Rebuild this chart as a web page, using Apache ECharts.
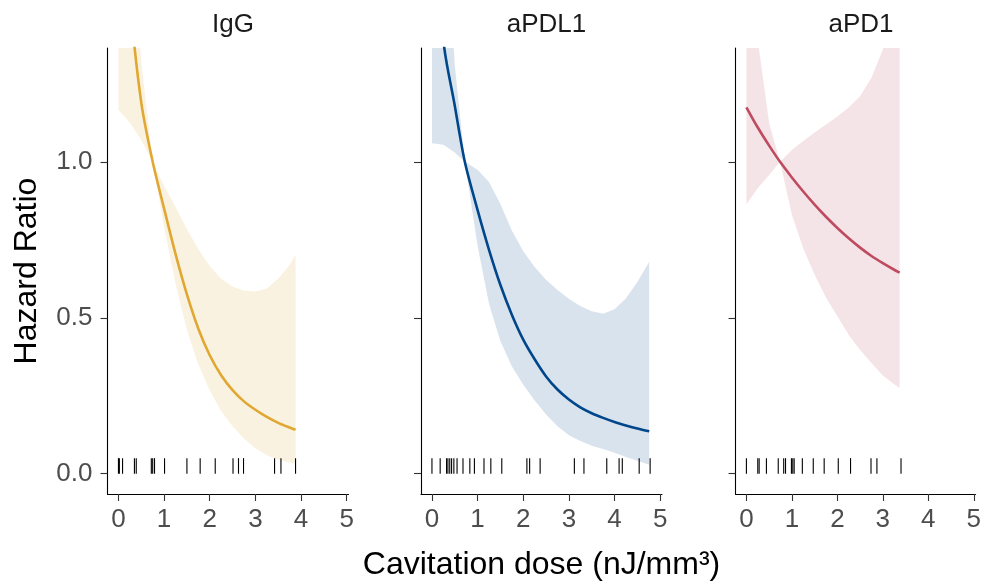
<!DOCTYPE html>
<html><head><meta charset="utf-8">
<script src="https://cdn.jsdelivr.net/npm/echarts@6/dist/echarts.min.js"></script>
<style>html,body{margin:0;padding:0;background:#fff}#c{width:984px;height:588px}</style>
</head><body><div id="c"></div>
<script>
// ---- data ----
const panelNames = ['IgG', 'aPDL1', 'aPD1'];
const lineColors = ['#E0A832', '#00468B', '#BE4B5F'];
const xTicks = [0, 1, 2, 3, 4, 5];
const yTicks = [0, 0.5, 1.0];

const iggX  = [0, 0.25, 0.5, 0.75, 1.0, 1.25, 1.5, 1.75, 2.0, 2.25, 2.5, 2.75, 3.0, 3.25, 3.5, 3.75, 3.88];
const iggHR = [2.0, 1.52, 1.19, 1.0, 0.85, 0.705, 0.575, 0.465, 0.38, 0.316, 0.268, 0.232, 0.205, 0.182, 0.163, 0.148, 0.141];
const iggLo = [1.167, 1.125, 1.07, 1.0, 0.79, 0.61, 0.46, 0.35, 0.268, 0.2, 0.152, 0.113, 0.082, 0.059, 0.045, 0.036, 0.032];
const iggHi = [3.0, 1.9, 1.32, 1.0, 0.923, 0.855, 0.785, 0.72, 0.666, 0.625, 0.6, 0.587, 0.584, 0.594, 0.625, 0.67, 0.702];
const iggRug = [0.0, 0.02, 0.09, 0.35, 0.39, 0.72, 0.75, 0.79, 1.01, 1.50, 1.79, 2.12, 2.51, 2.63, 2.74, 3.42, 3.56, 3.88];

const pdl1X  = [0, 0.25, 0.5, 0.72, 1.0, 1.25, 1.5, 1.75, 2.0, 2.25, 2.5, 2.75, 3.0, 3.25, 3.5, 3.75, 4.0, 4.25, 4.5, 4.76];
const pdl1HR = [2.0, 1.39, 1.18, 1.0, 0.845, 0.718, 0.605, 0.51, 0.43, 0.367, 0.312, 0.27, 0.238, 0.213, 0.194, 0.179, 0.166, 0.155, 0.145, 0.136];
const pdl1Lo = [1.06, 1.055, 1.03, 1.0, 0.73, 0.545, 0.425, 0.345, 0.285, 0.235, 0.19, 0.152, 0.123, 0.105, 0.09, 0.079, 0.067, 0.054, 0.042, 0.029];
const pdl1Hi = [3.5, 1.9, 1.31, 1.0, 0.975, 0.935, 0.865, 0.78, 0.713, 0.663, 0.622, 0.589, 0.561, 0.538, 0.521, 0.513, 0.527, 0.563, 0.615, 0.68];
const pdl1Rug = [0.0, 0.18, 0.32, 0.35, 0.39, 0.43, 0.48, 0.55, 0.68, 0.83, 0.93, 1.14, 1.29, 1.53, 2.08, 2.14, 2.37, 3.12, 3.33, 3.83, 4.10, 4.17, 4.54, 4.78];

const pd1X  = [0, 0.25, 0.5, 0.74, 1.0, 1.25, 1.5, 1.75, 2.0, 2.25, 2.5, 2.75, 3.0, 3.25, 3.37];
const pd1HR = [1.175, 1.11, 1.052, 1.0, 0.95, 0.905, 0.863, 0.824, 0.788, 0.755, 0.725, 0.698, 0.675, 0.654, 0.645];
const pd1Lo = [0.864, 0.915, 0.958, 1.0, 0.83, 0.722, 0.638, 0.565, 0.505, 0.445, 0.397, 0.355, 0.315, 0.287, 0.275];
const pd1Hi = [2.1, 1.39, 1.124, 1.0, 1.038, 1.067, 1.094, 1.12, 1.145, 1.174, 1.21, 1.27, 1.36, 1.52, 1.65];
const pd1Rug = [0.0, 0.25, 0.28, 0.44, 0.70, 0.82, 0.86, 0.99, 1.02, 1.05, 1.23, 1.47, 1.71, 2.02, 2.29, 2.74, 2.87, 3.40];

const rugTop = 0.05;

// ---- build ----
const panelData = [
  {x: iggX, hr: iggHR, lo: iggLo, hi: iggHi, rug: iggRug},
  {x: pdl1X, hr: pdl1HR, lo: pdl1Lo, hi: pdl1Hi, rug: pdl1Rug},
  {x: pd1X, hr: pd1HR, lo: pd1Lo, hi: pd1Hi, rug: pd1Rug}
];
const lefts = [107.5, 421, 735.5];
const FONT = '"Liberation Sans", Arial, sans-serif';

function rgba(hex, a) {
  const n = parseInt(hex.slice(1), 16);
  return 'rgba(' + ((n >> 16) & 255) + ',' + ((n >> 8) & 255) + ',' + (n & 255) + ',' + a + ')';
}

const grid = [], xAxis = [], yAxis = [], series = [], title = [];
panelData.forEach((p, i) => {
  grid.push({left: lefts[i], top: 48, width: 241, height: 446});
  title.push({text: panelNames[i], left: lefts[i] + 120.5, top: 7, textAlign: 'center',
    textStyle: {fontFamily: FONT, fontSize: 26, fontWeight: 'normal', color: '#1A1A1A'}});
  xAxis.push({
    type: 'value', gridIndex: i, min: -0.24, max: 5.04,
    axisLine: {show: true, onZero: false, lineStyle: {color: '#000', width: 1.1}},
    axisTick: {show: true, customValues: xTicks, length: 7, lineStyle: {color: '#333', width: 1.1}},
    axisLabel: {show: true, customValues: xTicks, margin: 13, fontFamily: FONT, fontSize: 26, color: '#4D4D4D'},
    splitLine: {show: false},
    name: i === 1 ? 'Cavitation dose (nJ/mm\u00B3)' : '',
    nameLocation: 'middle', nameGap: 55,
    nameTextStyle: {fontFamily: FONT, fontSize: 32, color: '#000'}
  });
  yAxis.push({
    type: 'value', gridIndex: i, min: -0.065, max: 1.365,
    axisLine: {show: true, onZero: false, lineStyle: {color: '#000', width: 1.1}},
    axisTick: {show: true, customValues: yTicks, length: 7, lineStyle: {color: '#333', width: 1.1}},
    axisLabel: {show: i === 0, customValues: yTicks, margin: 15, fontFamily: FONT, fontSize: 26, color: '#4D4D4D',
      formatter: v => v.toFixed(1)},
    splitLine: {show: false},
    name: i === 0 ? 'Hazard Ratio' : '',
    nameLocation: 'middle', nameGap: 64, nameRotate: 90,
    nameTextStyle: {fontFamily: FONT, fontSize: 32, color: '#000'}
  });
  const fill = rgba(lineColors[i], 0.15);
  series.push({
    type: 'custom', xAxisIndex: i, yAxisIndex: i, clip: true, silent: true, z: 1,
    data: [[0, 0]],
    renderItem: function (params, api) {
      const pts = [];
      for (let k = 0; k < p.x.length; k++) pts.push(api.coord([p.x[k], p.hi[k]]));
      for (let k = p.x.length - 1; k >= 0; k--) pts.push(api.coord([p.x[k], p.lo[k]]));
      return {type: 'polygon', shape: {points: pts, smooth: 0}, style: {fill: fill, stroke: null}};
    }
  });
  series.push({
    type: 'custom', xAxisIndex: i, yAxisIndex: i, clip: true, silent: true, z: 2,
    data: p.rug.map(v => [v, 0]),
    renderItem: function (params, api) {
      const a = api.coord([api.value(0), 0]);
      const b = api.coord([api.value(0), rugTop]);
      return {type: 'line', shape: {x1: a[0], y1: a[1], x2: b[0], y2: b[1]},
        style: {stroke: '#000', lineWidth: 1.1}};
    }
  });
  series.push({
    type: 'line', xAxisIndex: i, yAxisIndex: i, clip: true, z: 3,
    data: p.x.map((x, k) => [x, p.hr[k]]),
    showSymbol: false, smooth: 0.3, silent: true,
    lineStyle: {color: lineColors[i], width: 2.6}
  });
});

const chart = echarts.init(document.getElementById('c'), null, {renderer: 'canvas'});
chart.setOption({animation: false, backgroundColor: '#fff', title, grid, xAxis, yAxis, series});
</script></body></html>
